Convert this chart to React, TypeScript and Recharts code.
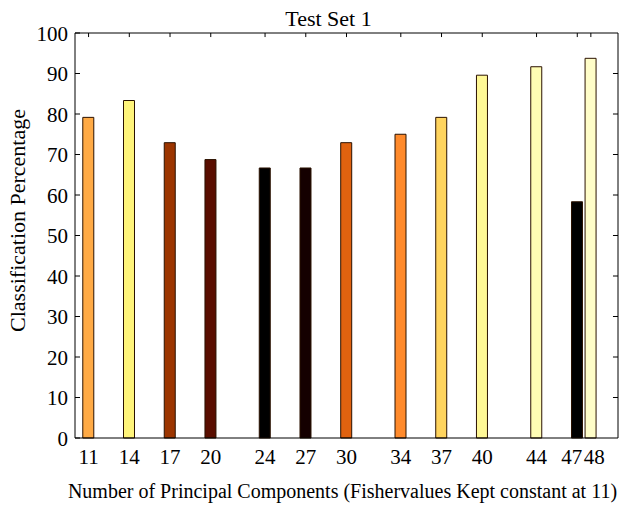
import { Bar, BarChart, Cell, Label, ReferenceLine, XAxis, YAxis } from "recharts";

// number of principal components kept (x positions)
const components = [11, 14, 17, 20, 24, 27, 30, 34, 37, 40, 44, 47, 48];
// classification percentage for each run
const percentages = [79.17, 83.33, 72.92, 68.75, 66.67, 66.67, 72.92, 75.0, 79.17, 89.58, 91.67, 58.33, 93.75];
// "hot" colormap shades taken from the figure
const barColors = [
  "#FFAA45",
  "#FFF47A",
  "#9C3500",
  "#5A0E00",
  "#000000",
  "#150000",
  "#E0620F",
  "#FF8A2B",
  "#FFD45E",
  "#FFF896",
  "#FFFDB4",
  "#000000",
  "#FFFDC8",
];
const yTicks = [0, 10, 20, 30, 40, 50, 60, 70, 80, 90, 100];

const X_MIN = 10;
const X_MAX = 50;
const Y_MAX = 100;

const data = components.map((n, i) => ({ n, pct: percentages[i] }));

const SERIF = "Liberation Serif, Times New Roman, serif";
const txt = { fontFamily: SERIF };

function LeftTick({ x, y, payload }: any) {
  return (
    <g>
      <line x1={x + 7} x2={x + 12} y1={y} y2={y} stroke="#000" />
      <text x={x} y={y} dy={7.5} textAnchor="end" fontSize={21} style={txt} fill="#000">
        {payload.value}
      </text>
    </g>
  );
}

function BottomTick({ x, y, payload }: any) {
  // 47 and 48 sit one unit apart, so their labels butt against each other
  let anchor = "middle";
  let tx = x;
  if (payload.value === 47) {
    anchor = "end";
    tx = x + 5;
  } else if (payload.value === 48) {
    anchor = "start";
    tx = x - 7;
  }
  return (
    <text x={tx} y={y} dy={14} textAnchor={anchor} fontSize={21} style={txt} fill="#000">
      {payload.value}
    </text>
  );
}

export default function App() {
  return (
    <div style={{ position: "absolute", left: 0, top: 0, background: "#fff", fontFamily: SERIF }}>
      <BarChart
        width={621}
        height={508}
        data={data}
        margin={{ top: 33, right: 3, bottom: 0, left: 0 }}
      >
        <XAxis
          dataKey="n"
          type="number"
          domain={[X_MIN, X_MAX]}
          ticks={components}
          interval={0}
          allowDataOverflow
          height={70}
          stroke="#000"
          tickLine={false}
          tickSize={0}
          tickMargin={12}
          tick={<BottomTick />}
        >
          <Label
            content={({ viewBox }: any) => (
              <text
                x={viewBox.x + viewBox.width / 2 - 4}
                y={viewBox.y + viewBox.height - 10}
                textAnchor="middle"
                fontSize={20}
                style={txt}
                fill="#000"
              >
                Number of Principal Components (Fishervalues Kept constant at 11)
              </text>
            )}
          />
        </XAxis>
        <YAxis
          type="number"
          domain={[0, Y_MAX]}
          ticks={yTicks}
          interval={0}
          width={75}
          stroke="#000"
          tickLine={false}
          tickSize={0}
          tickMargin={7}
          tick={<LeftTick />}
        >
          <Label
            content={({ viewBox }: any) => {
              const lx = viewBox.x + 25;
              const ly = viewBox.y + viewBox.height / 2 - 15;
              return (
                <text
                  x={lx}
                  y={ly}
                  transform={`rotate(-90, ${lx}, ${ly})`}
                  textAnchor="middle"
                  fontSize={22}
                  style={txt}
                  fill="#000"
                >
                  Classification Percentage
                </text>
              );
            }}
          />
        </YAxis>

        {/* box frame: top and right edges */}
        <ReferenceLine y={Y_MAX} stroke="#000" ifOverflow="extendDomain">
          <Label
            content={({ viewBox }: any) => (
              <text
                x={viewBox.x + viewBox.width / 2 - 18}
                y={viewBox.y - 7}
                textAnchor="middle"
                fontSize={22}
                style={txt}
                fill="#000"
              >
                Test Set 1
              </text>
            )}
          />
        </ReferenceLine>
        <ReferenceLine x={X_MAX} stroke="#000" ifOverflow="extendDomain" />

        {/* inward ticks on the top and right edges */}
        {components.map((c) => (
          <ReferenceLine
            key={`t${c}`}
            segment={[
              { x: c, y: Y_MAX },
              { x: c, y: Y_MAX - 1 },
            ]}
            stroke="#000"
          />
        ))}
        {yTicks.slice(1, -1).map((t) => (
          <ReferenceLine
            key={`r${t}`}
            segment={[
              { x: X_MAX, y: t },
              { x: X_MAX - 0.37, y: t },
            ]}
            stroke="#000"
          />
        ))}

        <Bar dataKey="pct" barSize={11} stroke="#2b1200" strokeWidth={1} isAnimationActive={false}>
          {data.map((d, i) => (
            <Cell key={d.n} fill={barColors[i]} />
          ))}
        </Bar>
      </BarChart>
    </div>
  );
}
